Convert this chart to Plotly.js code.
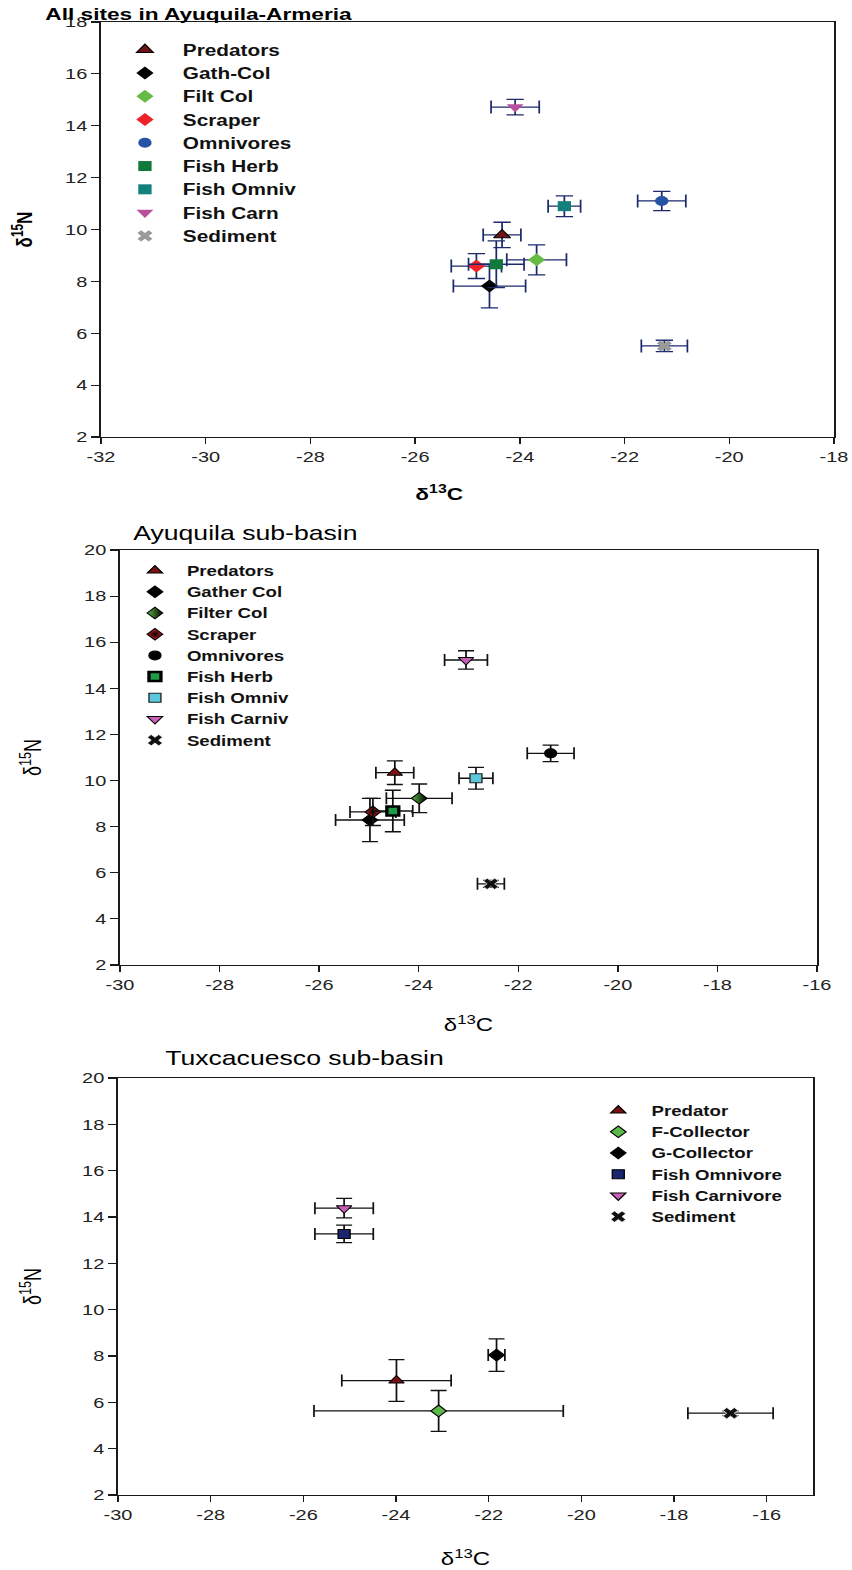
<!DOCTYPE html>
<html>
<head>
<meta charset="utf-8">
<script src="https://cdn.plot.ly/plotly-3.0.1.min.js"></script>
<style>
  html, body { margin: 0; padding: 0; background: #fff; overflow: hidden; }
  #wrap { width: 852px; height: 1570px; overflow: hidden; }
  /* the figure is laid out narrow and stretched to full page width */
  #chart { width: 640px; height: 1570px; transform: scaleX(1.33125); transform-origin: 0 0; }
</style>
</head>
<body>
<div id="wrap"><div id="chart"></div></div>
<script>
// ---- All sites in Ayuquila-Armeria ----
const namesA = ["Predators", "Gath-Col", "Filt Col", "Scraper", "Omnivores", "Fish Herb", "Fish Omniv", "Fish Carn", "Sediment"];
const d13cA  = [-24.34, -24.58, -23.68, -24.83, -21.29, -24.45, -23.15, -24.09, -21.24];
const d15nA  = [9.79, 7.82, 8.83, 8.59, 11.10, 8.66, 10.90, 14.72, 5.51];
const sdCA   = [0.36, 0.69, 0.57, 0.48, 0.46, 0.53, 0.31, 0.46, 0.44];
const sdNA   = [0.49, 0.84, 0.58, 0.48, 0.37, 0.90, 0.40, 0.30, 0.22];

// ---- Ayuquila sub-basin ----
const namesB = ["Predators", "Gather Col", "Filter Col", "Scraper", "Omnivores", "Fish Herb", "Fish Omniv", "Fish Carniv", "Sediment"];
const d13cB  = [-24.48, -24.98, -23.99, -24.92, -21.35, -24.52, -22.85, -23.05, -22.55];
const d15nB  = [10.34, 8.29, 9.23, 8.64, 11.18, 8.68, 10.10, 15.23, 5.52];
const sdCB   = [0.38, 0.69, 0.66, 0.46, 0.47, 0.40, 0.34, 0.43, 0.27];
const sdNB   = [0.51, 0.94, 0.62, 0.59, 0.36, 0.90, 0.47, 0.40, 0.15];

// ---- Tuxcacuesco sub-basin ----
const namesC = ["Predator", "F-Collector", "G-Collector", "Fish Omnivore", "Fish Carnivore", "Sediment"];
const d13cC  = [-23.99, -23.08, -21.83, -25.12, -25.12, -16.78];
const d15nC  = [6.94, 5.63, 8.04, 13.27, 14.38, 5.53];
const sdCC   = [1.18, 2.69, 0.18, 0.63, 0.63, 0.92];
const sdNC   = [0.90, 0.88, 0.70, 0.38, 0.42, 0.10];

// ---- tick values and labels ----
const xTicksA = [-32, -30, -28, -26, -24, -22, -20, -18];
const xTicksB = [-30, -28, -26, -24, -22, -20, -18, -16];
const yTicksA = [2, 4, 6, 8, 10, 12, 14, 16, 18];
const yTicksB = [2, 4, 6, 8, 10, 12, 14, 16, 18, 20];
const label = v => String(v);   // plain hyphen-minus, as printed on the axes

// ---- marker styling per group ----
const styleA = [
  {symbol: "triangle-up", color: "#6e1414", line: "#000", lw: 1, size: 11},
  {symbol: "diamond", color: "#000000", line: "#000", lw: 0, size: 10},
  {symbol: "diamond", color: "#66bb44", line: "#66bb44", lw: 0, size: 10},
  {symbol: "diamond", color: "#ee2228", line: "#ee2228", lw: 0, size: 10},
  {symbol: "circle", color: "#2452a4", line: "#2452a4", lw: 0, size: 10},
  {symbol: "square", color: "#0f7a3c", line: "#0f7a3c", lw: 0, size: 10},
  {symbol: "square", color: "#12807c", line: "#12807c", lw: 0, size: 10},
  {symbol: "triangle-down", color: "#b8509e", line: "#b8509e", lw: 0, size: 11},
  {symbol: "x", color: "#9a9a9a", line: "#9a9a9a", lw: 0, size: 10}
];
const styleB = [
  {symbol: "triangle-up", color: "#7a1010", line: "#000", lw: 1, size: 10},
  {symbol: "diamond", color: "#000000", line: "#000", lw: 1, size: 9},
  {symbol: "diamond", color: "#5cb848", line: "#000", lw: 1, size: 9, grad: {type: "horizontal", color: "#000000"}},
  {symbol: "diamond", color: "#e02020", line: "#000", lw: 1, size: 9, grad: {type: "radial", color: "#000000"}},
  {symbol: "circle", color: "#000000", line: "#000", lw: 1, size: 9},
  {symbol: "square", color: "#1f9a46", line: "#000", lw: 2.5, size: 9},
  {symbol: "square", color: "#5cc8dc", line: "#222", lw: 1, size: 9},
  {symbol: "triangle-down", color: "#c860b8", line: "#000", lw: 1, size: 10},
  {symbol: "x", color: "#111111", line: "#fff", lw: 0.6, size: 10}
];
const styleC = [
  {symbol: "triangle-up", color: "#7a1010", line: "#000", lw: 1, size: 10},
  {symbol: "diamond", color: "#5cb848", line: "#000", lw: 1, size: 9},
  {symbol: "diamond", color: "#000000", line: "#000", lw: 1, size: 9},
  {symbol: "square", color: "#1a2470", line: "#000", lw: 1, size: 9},
  {symbol: "triangle-down", color: "#c860b8", line: "#000", lw: 1, size: 10},
  {symbol: "x", color: "#111111", line: "#fff", lw: 0.6, size: 10}
];

function makeTraces(names, xs, ys, ex, ey, styles, axSuffix, legendId, barColor, cap) {
  return names.map((n, i) => {
    const s = styles[i];
    const marker = {symbol: s.symbol, color: s.color, size: s.size, line: {color: s.line, width: s.lw}};
    if (s.grad) marker.gradient = s.grad;
    return {
      type: "scatter", mode: "markers", name: n,
      x: [xs[i]], y: [ys[i]],
      xaxis: "x" + axSuffix, yaxis: "y" + axSuffix,
      legend: legendId,
      marker: marker,
      error_x: {type: "data", array: [ex[i]], visible: true, color: barColor, thickness: 1.3, width: cap},
      error_y: {type: "data", array: [ey[i]], visible: true, color: barColor, thickness: 1.3, width: cap},
      cliponaxis: false
    };
  });
}

const traces = []
  .concat(makeTraces(namesA, d13cA, d15nA, sdCA, sdNA, styleA, "", "legend", "#1c2a6c", 6.5))
  .concat(makeTraces(namesB, d13cB, d15nB, sdCB, sdNB, styleB, "2", "legend2", "#111111", 6))
  .concat(makeTraces(namesC, d13cC, d15nC, sdCC, sdNC, styleC, "3", "legend3", "#111111", 6));

const W = 852, H = 1570;           // page pixels
const fx = p => p / W;
const fy = p => 1 - p / H;
const FONT = "Liberation Sans, Arial, Helvetica, sans-serif";

function axisX(range, ticks, domain, anchor, titleText, titleSize, standoff) {
  return {
    domain: domain, anchor: anchor, range: range,
    tickmode: "array", tickvals: ticks, ticktext: ticks.map(label),
    showgrid: false, zeroline: false, showline: true, linecolor: "#1a1a1a", linewidth: 1.3, mirror: true,
    ticks: "outside", ticklen: 6, tickwidth: 1.1, tickcolor: "#1a1a1a",
    tickfont: {family: FONT, size: 15, color: "#222"},
    title: {text: titleText, font: {family: FONT, size: titleSize, color: "#000"}, standoff: standoff}
  };
}
function axisY(range, ticks, domain, anchor, titleText, titleSize, bold, standoff) {
  return {
    domain: domain, anchor: anchor, range: range,
    tickmode: "array", tickvals: ticks, ticktext: ticks.map(label),
    showgrid: false, zeroline: false, showline: true, linecolor: "#1a1a1a", linewidth: 1.3, mirror: true,
    ticks: "outside", ticklen: 6, tickwidth: 1.1, tickcolor: "#1a1a1a",
    tickfont: {family: FONT, size: 15, color: "#222"},
    title: {text: titleText, font: {family: FONT, size: titleSize, color: "#000", weight: bold ? "bold" : "normal"}, standoff: standoff}
  };
}

const xTitle = "δ<sup>13</sup>C";
const yTitle = "δ<sup>15</sup>N";

function legendAt(leftPx, topPx, size, itemwidth) {
  return {
    x: fx(leftPx), y: fy(topPx), xanchor: "left", yanchor: "top",
    bgcolor: "rgba(0,0,0,0)", borderwidth: 0, itemwidth: itemwidth,
    font: {family: FONT, size: size, color: "#111", weight: "bold"},
    tracegroupgap: 0
  };
}

const layout = {
  width: 640, height: H,
  margin: {l: 0, r: 0, t: 0, b: 0},
  paper_bgcolor: "#fff", plot_bgcolor: "#fff",
  showlegend: true,
  xaxis:  axisX([-32, -18], xTicksA, [fx(101), fx(834)], "y",  "", 17, 10),
  yaxis:  axisY([2, 18], yTicksA, [fy(437), fy(22)], "x", yTitle, 17, true, 19.5),
  xaxis2: axisX([-30, -16], xTicksB, [fx(120), fx(817)], "y2", xTitle, 18, 26),
  yaxis2: axisY([2, 20], yTicksB, [fy(965), fy(550)], "x2", yTitle, 18, false, 27),
  xaxis3: axisX([-30, -15], xTicksB, [fx(118), fx(813)], "y3", xTitle, 18, 30),
  yaxis3: axisY([2, 20], yTicksB, [fy(1495), fy(1078)], "x3", yTitle, 18, false, 25.5),
  legend:  legendAt(107, 33, 15.6, 47),
  legend2: legendAt(123, 555, 14, 38),
  legend3: legendAt(585, 1095, 14, 40),
  annotations: [
    {text: "All sites in Ayuquila-Armeria", xref: "paper", yref: "paper", x: fx(43), y: fy(15),
     xanchor: "left", yanchor: "middle", showarrow: false,
     font: {family: FONT, size: 17, color: "#000", weight: "bold"}},
    {text: xTitle, xref: "paper", yref: "paper", x: fx(439), y: fy(493),
     xanchor: "center", yanchor: "middle", showarrow: false,
     font: {family: FONT, size: 17, color: "#000", weight: "bold"}},
    {text: "Ayuquila sub-basin", xref: "paper", yref: "paper", x: fx(130), y: fy(533),
     xanchor: "left", yanchor: "middle", showarrow: false,
     font: {family: FONT, size: 20, color: "#000"}},
    {text: "Tuxcacuesco sub-basin", xref: "paper", yref: "paper", x: fx(163), y: fy(1058),
     xanchor: "left", yanchor: "middle", showarrow: false,
     font: {family: FONT, size: 20, color: "#000"}}
  ]
};

Plotly.newPlot("chart", traces, layout, {staticPlot: true, displayModeBar: false});
</script>
</body>
</html>
